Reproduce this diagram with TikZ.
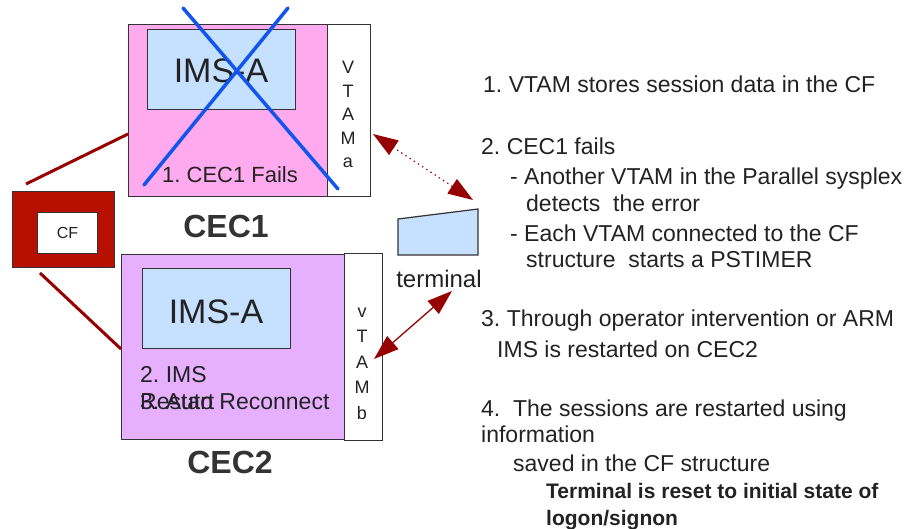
\documentclass[tikz,border=0pt]{standalone}
\usepackage{fontspec}
\setmainfont{Liberation Sans}
\usetikzlibrary{arrows.meta}

\definecolor{cecpink}{RGB}{255,170,238}
\definecolor{ceclilac}{RGB}{230,176,255}
\definecolor{imsblue}{RGB}{198,224,255}
\definecolor{cfred}{RGB}{184,16,0}
\definecolor{linkred}{RGB}{150,0,0}
\definecolor{crossblue}{RGB}{17,85,238}
\definecolor{txt}{RGB}{34,34,34}

\newcommand{\fsz}[1]{\fontsize{#1}{#1}\selectfont}

\tikzset{
  box/.style={draw=black!80, line width=1.2pt, anchor=north west, inner sep=0pt},
  link/.style={draw=linkred, line width=3pt},
  item/.style={anchor=base west, inner sep=0pt, text=txt, font=\fsz{23}},
  vtam/.style={align=center, inner sep=0pt, text=txt},
  session/.style={linkred, {Triangle[length=25pt,width=17pt]}-{Triangle[length=25pt,width=17pt]}}
}

\begin{document}
\frenchspacing
\begin{tikzpicture}[x=1pt,y=-1pt]
      \useasboundingbox (0,0) rectangle (904,529);

      % the two CECs
      \node[box,fill=cecpink,minimum width=199pt,minimum height=172pt] (cec1) at (128,24) {};
      \node[box,fill=white,minimum width=43pt,minimum height=172pt] (vtama) at (327,24) {};
      \node[box,fill=imsblue,minimum width=148pt,minimum height=80pt] (ims1) at (147,29) {};
      \node[box,fill=ceclilac,minimum width=223pt,minimum height=185pt] (cec2) at (121,254) {};
      \node[box,fill=white,minimum width=38pt,minimum height=187pt] (vtamb) at (344,253) {};
      \node[box,fill=imsblue,minimum width=148pt,minimum height=80pt] (ims2) at (142,268) {};

      % coupling facility
      \node[box,fill=cfred,minimum width=102pt,minimum height=76pt] (cf) at (12,191) {};
      \node[box,fill=white,minimum width=60pt,minimum height=41pt,font=\fsz{16},text=txt] (cfin) at (37,212) {CF};

      % terminal
      \draw[fill=imsblue,draw=black!80,line width=1.2pt] (398,219) -- (478,209) -- (478,255) -- (398,255) -- cycle;

      \begin{scope}[every node/.style={inner sep=0pt,text=txt}]
        \node[anchor=base,font=\fsz{34}] (imsa1) at (221,83) {IMS-A};
        \node[anchor=base,font=\fsz{34}] (imsa2) at (216,323) {IMS-A};
        \node[vtam,anchor=base,font=\fontsize{18}{23.5}\selectfont] (va) at (348,168) {V\\T\\A\\M\\a};
        \node[vtam,anchor=base,font=\fontsize{18}{25.5}\selectfont] (vb) at (362,419) {v\\T\\A\\M\\b};
        \node[anchor=base,font=\fsz{32}\bfseries,text=black!80] (lcec1) at (226,237) {CEC1};
        \node[anchor=base,font=\fsz{32}\bfseries,text=black!80] (lcec2) at (230,473) {CEC2};
        \node[anchor=base,font=\fsz{24}] (lterm) at (439,287) {terminal};
        \node[anchor=base west,font=\fsz{22}] (fail) at (162,183) {1. CEC1 Fails};
        \node[anchor=base west,font=\fsz{23}] (rst1) at (140,382) {2. IMS};
        \node[anchor=base west,font=\fsz{23}] (rst2) at (140,409) {Restart};
        \node[anchor=base west,font=\fsz{23}] (recon) at (140,409) {3. Auto Reconnect};
      \end{scope}

      % CEC1 is crossed out
      \coordinate (xa) at (183,8);
      \coordinate (xb) at (338,189);
      \coordinate (xc) at (288,8);
      \coordinate (xd) at (144,185);
      \draw[crossblue,line width=3.5pt,line cap=round] (xa) -- (xb);
      \draw[crossblue,line width=3.5pt,line cap=round] (xc) -- (xd);

      % links to the CF
      \coordinate (cfa) at (26,184);
      \coordinate (cfb) at (40,273);
      \coordinate (c1l) at (cec1.west |- 0,134);
      \coordinate (c2l) at (cec2.west |- 0,349);
      \path[link] (cfa) -- (c1l);
      \path[link] (cfb) -- (c2l);

      % sessions
      \coordinate (sa) at (373,134);
      \coordinate (ta) at (473,200);
      \coordinate (sb) at (374,359);
      \coordinate (tb) at (452,291);
      \draw[session,line width=1.8pt,line cap=round,dash pattern=on 0pt off 5pt] (sa) -- (ta);
      \draw[session,line width=1.3pt] (sb) -- (tb);

      % steps
      \node[item] (s1)  at (483,93)  {1. VTAM stores session data in the CF};
      \node[item] (s2)  at (481,155) {2. CEC1 fails};
      \node[item] (s2a) at (510,185) {- Another VTAM in the Parallel sysplex};
      \node[item] (s2b) at (526,212) {detects\ \ the error};
      \node[item] (s2c) at (510,241) {- Each VTAM connected to the CF};
      \node[item] (s2d) at (526,267) {structure\ \ starts a PSTIMER};
      \node[item] (s3)  at (481,326) {3. Through operator intervention or ARM};
      \node[item] (s3a) at (497,357) {IMS is restarted on CEC2};
      \node[item] (s4)  at (481,416) {4.\ \ The sessions are restarted using};
      \node[item] (s4a) at (481,442) {information};
      \node[item] (s4b) at (513,471) {saved in the CF structure};
      \node[item,font=\fsz{21}\bfseries] (s4c) at (546,498) {Terminal is reset to initial state of};
      \node[item,font=\fsz{21}\bfseries] (s4d) at (546,525) {logon/signon};

\end{tikzpicture}
\end{document}
